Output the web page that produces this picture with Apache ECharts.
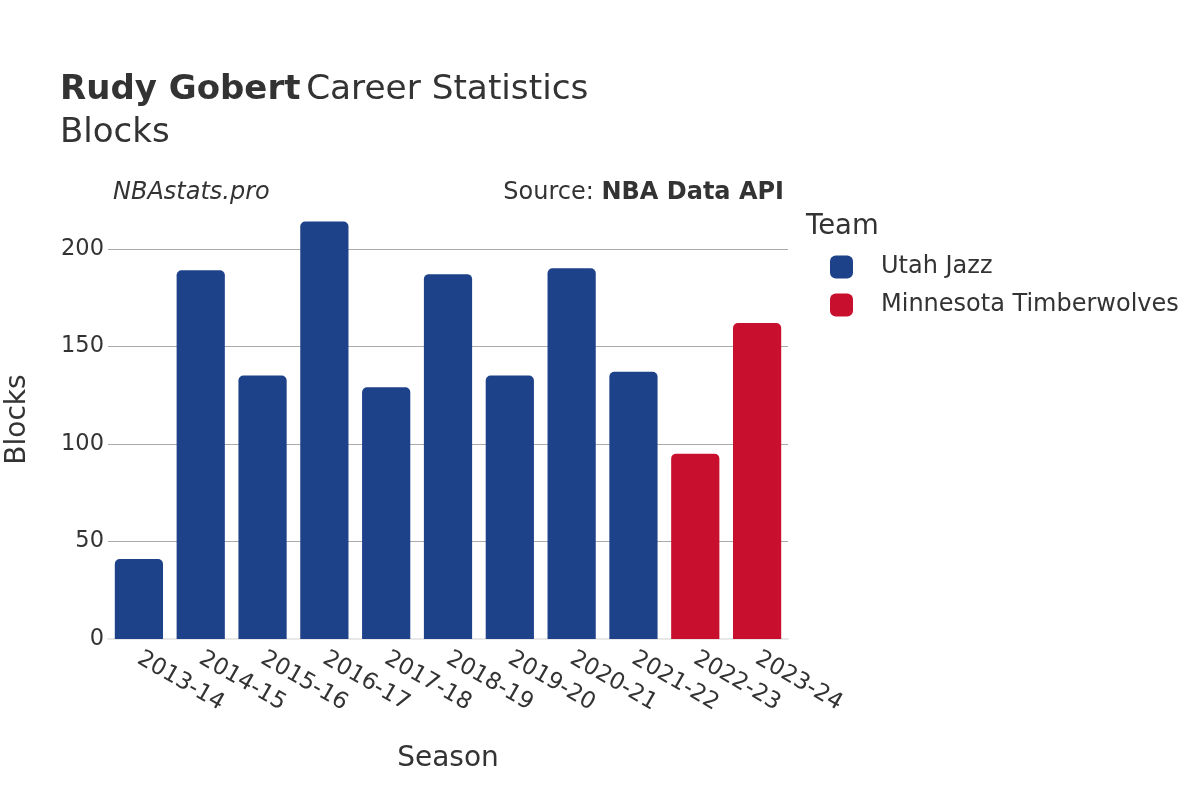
<!DOCTYPE html>
<html>
<head>
<meta charset="utf-8">
<script src="https://cdn.jsdelivr.net/npm/echarts@6/dist/echarts.min.js"></script>
<style>html,body{margin:0;padding:0;background:#fff}#c{width:1200px;height:800px}</style>
</head>
<body>
<div id="c"></div>
<script>
const seasons = ['2013-14','2014-15','2015-16','2016-17','2017-18','2018-19','2019-20','2020-21','2021-22','2022-23','2023-24'];
const utahBlocks = [41,189,135,214,129,187,135,190,137,null,null];
const minnBlocks = [null,null,null,null,null,null,null,null,null,95,162];
const yTicks = [0,50,100,150,200];

const FONT = '"DejaVu Sans", sans-serif';
const TXT = '#333';
const chart = echarts.init(document.getElementById('c'));
chart.setOption({
  backgroundColor: '#fff',
  animation: false,
  textStyle: { fontFamily: FONT },
  title: [
    { text: '{b|Rudy Gobert} {n|Career Statistics}', left: 60, top: 73, padding: 0,
      textStyle: { fontWeight: 'normal', rich: {
        b: { fontFamily: FONT, fontSize: 34, fontWeight: 'bold', color: TXT },
        n: { fontFamily: FONT, fontSize: 34.3, fontWeight: 'normal', color: TXT } } } },
    { text: 'Blocks', left: 60, top: 116, padding: 0, textStyle: { fontFamily: FONT, fontSize: 34, fontWeight: 'normal', color: TXT } },
    { text: 'NBAstats.pro', left: 113, top: 181, padding: 0, textStyle: { fontFamily: FONT, fontSize: 24, fontStyle: 'italic', fontWeight: 'normal', color: TXT } },
    { text: '{n|Source: }{b|NBA Data API}', right: 416, top: 181, padding: 0,
      textStyle: { fontWeight: 'normal', rich: {
        n: { fontFamily: FONT, fontSize: 24, fontWeight: 'normal', color: TXT },
        b: { fontFamily: FONT, fontSize: 24, fontWeight: 'bold', color: TXT } } } },
    { text: 'Team', left: 806, top: 213, padding: 0, textStyle: { fontFamily: FONT, fontSize: 27.5, fontWeight: 'normal', color: TXT } }
  ],
  legend: {
    orient: 'vertical', left: 825, top: 250,
    icon: 'roundRect', itemWidth: 23, itemHeight: 23, itemGap: 14,
    textStyle: { fontFamily: FONT, fontSize: 24, color: TXT, padding: [0,0,0,23] },
    data: ['Utah Jazz', 'Minnesota Timberwolves']
  },
  grid: { left: 108, right: 412, top: 200, bottom: 161, containLabel: false, outerBoundsMode: 'none' },
  xAxis: {
    type: 'category', data: seasons,
    name: 'Season', nameLocation: 'middle', nameGap: 106,
    nameTextStyle: { fontFamily: FONT, fontSize: 28, color: TXT },
    axisLine: { show: true, lineStyle: { color: '#e8e8e8', width: 2 } },
    axisTick: { show: false },
    axisLabel: { rotate: -30, fontFamily: FONT, fontSize: 23, color: TXT, margin: 18, interval: 0 }
  },
  yAxis: {
    type: 'value', min: 0, max: 225, interval: 50,
    name: 'Blocks', nameLocation: 'middle', nameGap: 76,
    nameTextStyle: { fontFamily: FONT, fontSize: 28, color: TXT },
    axisLine: { show: false }, axisTick: { show: false },
    axisLabel: { fontFamily: FONT, fontSize: 22.5, color: TXT, margin: 4, padding: [4,0,0,0],
      formatter: v => yTicks.indexOf(v) >= 0 ? String(v) : '' },
    splitLine: { lineStyle: { color: ['#aaaaaa','#aaaaaa','#aaaaaa','#aaaaaa','#aaaaaa','rgba(0,0,0,0)'], width: 1 } }
  },
  series: [
    { name: 'Utah Jazz', type: 'bar', stack: 't', data: utahBlocks, barWidth: '78%',
      itemStyle: { color: '#1d428a', borderRadius: [5,5,0,0] } },
    { name: 'Minnesota Timberwolves', type: 'bar', stack: 't', data: minnBlocks, barWidth: '78%',
      itemStyle: { color: '#c8102e', borderRadius: [5,5,0,0] } }
  ]
});
</script>
</body>
</html>
